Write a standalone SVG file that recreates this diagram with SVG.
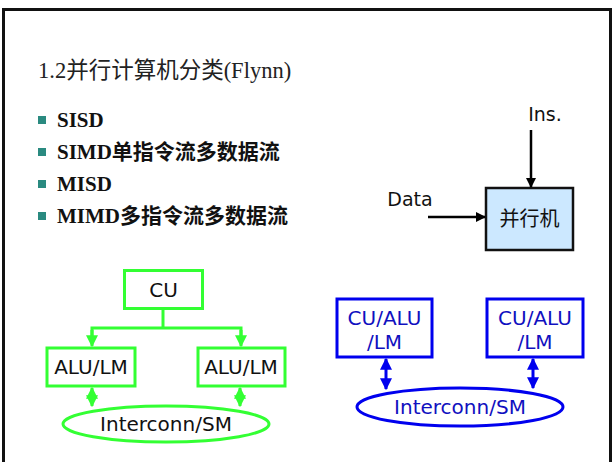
<svg xmlns="http://www.w3.org/2000/svg" width="613" height="462" viewBox="0 0 613 462">
<style>
.title{font-family:"Liberation Serif","Noto Sans CJK SC",serif;font-size:22.5px;fill:#222}
.item{font-family:"Liberation Serif","Noto Sans CJK SC",serif;font-size:21px;font-weight:bold;fill:#111}
.lab{font-family:"DejaVu Sans","Noto Sans CJK SC",sans-serif;font-size:19px;fill:#111}
.gl{font-family:"DejaVu Sans",sans-serif;font-size:20px;fill:#111}
.g{fill:none;stroke:#33ff33;stroke-width:3}
.b{fill:none;stroke:#0000ee;stroke-width:3}
.bt{font-family:"DejaVu Sans",sans-serif;font-size:20px;fill:#1010c0}
.bul{fill:#2a8a80}
</style>
<defs>
<marker id="ak" viewBox="0 0 10 10" refX="9" refY="5" markerWidth="4" markerHeight="4" orient="auto-start-reverse"><path d="M0,0L10,5L0,10z" fill="#000"/></marker>
<marker id="ag" viewBox="0 0 10 10" refX="9" refY="5" markerWidth="4" markerHeight="4" orient="auto-start-reverse"><path d="M0,0L10,5L0,10z" fill="#33ff33"/></marker>
<marker id="ab" viewBox="0 0 10 10" refX="9" refY="5" markerWidth="4" markerHeight="4" orient="auto-start-reverse"><path d="M0,0L10,5L0,10z" fill="#0000ee"/></marker>
</defs>
<rect x="3.5" y="9.5" width="607" height="470" fill="#fff" stroke="#111" stroke-width="3"/>
<text class="title" x="38" y="78">1.2并行计算机分类(Flynn)</text>
<g id="bullets">
<rect class="bul" x="38" y="116" width="8" height="8"/>
<rect class="bul" x="38" y="148" width="8" height="8"/>
<rect class="bul" x="38" y="180" width="8" height="8"/>
<rect class="bul" x="38" y="212" width="8" height="8"/>
<text class="item" x="57" y="127">SISD</text>
<text class="item" x="57" y="159">SIMD单指令流多数据流</text>
<text class="item" x="57" y="191">MISD</text>
<text class="item" x="57" y="223">MIMD多指令流多数据流</text>
</g>
<g id="ins-label"><text class="lab" x="545" y="121" text-anchor="middle">Ins.</text></g>
<g id="data-label"><text class="lab" x="410" y="206" text-anchor="middle">Data</text></g>
<g id="parallel-machine">
<rect x="486" y="188" width="87" height="62" fill="#cce8ff" stroke="#111" stroke-width="2.5"/>
<text class="lab" x="529.5" y="226" text-anchor="middle" style="font-size:20px">并行机</text>
</g>
<g id="cu"><rect class="g" x="124.5" y="270.5" width="78" height="38"/><text class="gl" x="163.5" y="297" text-anchor="middle">CU</text></g>
<g id="alu1"><rect class="g" x="47" y="348" width="88" height="38"/><text class="gl" x="91" y="374" text-anchor="middle">ALU/LM</text></g>
<g id="alu2"><rect class="g" x="198" y="348" width="87" height="38"/><text class="gl" x="241" y="374" text-anchor="middle">ALU/LM</text></g>
<g id="sm-green"><ellipse class="g" cx="166" cy="424" rx="103" ry="18"/><text class="gl" x="166" y="431" text-anchor="middle">Interconn/SM</text></g>
<g id="pe1"><rect class="b" x="337" y="299" width="95" height="58"/><text class="bt" x="384.5" y="325" text-anchor="middle">CU/ALU</text><text class="bt" x="384.5" y="349" text-anchor="middle">/LM</text></g>
<g id="pe2"><rect class="b" x="487" y="299" width="96" height="58"/><text class="bt" x="535" y="325" text-anchor="middle">CU/ALU</text><text class="bt" x="535" y="349" text-anchor="middle">/LM</text></g>
<g id="sm-blue"><ellipse class="b" cx="460" cy="407" rx="103" ry="19"/><text class="bt" x="460" y="414" text-anchor="middle">Interconn/SM</text></g>
<g id="connectors">
<line x1="531" y1="130" x2="531" y2="187" stroke="#000" stroke-width="2.5" marker-end="url(#ak)"/>
<line x1="428" y1="217" x2="485" y2="217" stroke="#000" stroke-width="2.5" marker-end="url(#ak)"/>
<polyline points="163,310 163,328" fill="none" stroke="#33ff33" stroke-width="3"/>
<polyline points="92,336 92,328 241,328 241,336" fill="none" stroke="#33ff33" stroke-width="3"/>
<line x1="92" y1="330" x2="92" y2="346" stroke="#33ff33" stroke-width="3" marker-end="url(#ag)"/>
<line x1="241" y1="330" x2="241" y2="346" stroke="#33ff33" stroke-width="3" marker-end="url(#ag)"/>
<line x1="92" y1="388" x2="92" y2="406" stroke="#33ff33" stroke-width="3" marker-start="url(#ag)" marker-end="url(#ag)"/>
<line x1="240" y1="388" x2="240" y2="406" stroke="#33ff33" stroke-width="3" marker-start="url(#ag)" marker-end="url(#ag)"/>
<line x1="386" y1="359" x2="386" y2="389" stroke="#0000ee" stroke-width="3" marker-start="url(#ab)" marker-end="url(#ab)"/>
<line x1="533" y1="359" x2="533" y2="388" stroke="#0000ee" stroke-width="3" marker-start="url(#ab)" marker-end="url(#ab)"/>
</g>
</svg>
